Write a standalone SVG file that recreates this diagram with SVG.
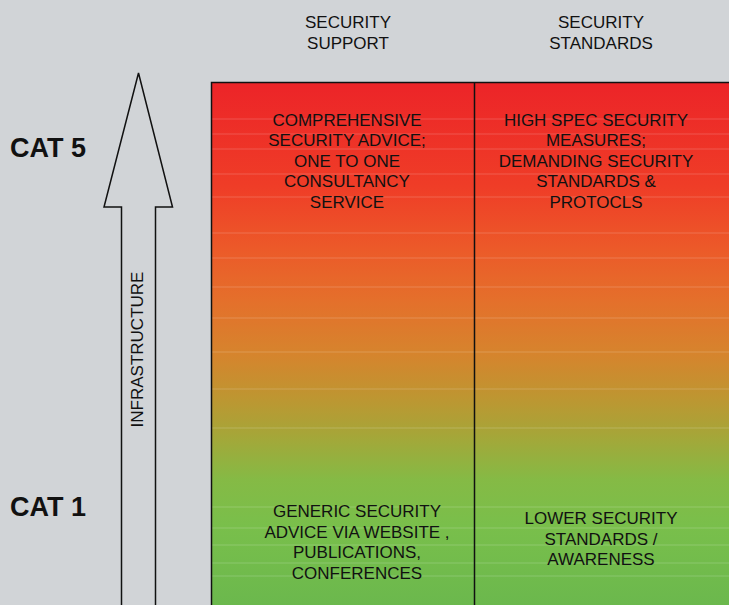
<svg xmlns="http://www.w3.org/2000/svg" width="729" height="605" viewBox="0 0 729 605">
  <defs>
    <linearGradient id="riskFill" x1="0" y1="82" x2="0" y2="605" gradientUnits="userSpaceOnUse">
      <stop offset="0" stop-color="#ec2428"/>
      <stop offset="0.2" stop-color="#ef3d27"/>
      <stop offset="0.32" stop-color="#ec5a29"/>
      <stop offset="0.42" stop-color="#e4702b"/>
      <stop offset="0.52" stop-color="#d6842d"/>
      <stop offset="0.6" stop-color="#bf9531"/>
      <stop offset="0.68" stop-color="#a4a739"/>
      <stop offset="0.76" stop-color="#85ba45"/>
      <stop offset="0.85" stop-color="#79bf4b"/>
      <stop offset="1" stop-color="#6bb84d"/>
    </linearGradient>
    <style>
      .t { font-family: "Liberation Sans", Arial, sans-serif; font-size: 17px; fill: #111; text-anchor: middle; }
      .cat { font-family: "Liberation Sans", Arial, sans-serif; font-size: 27px; font-weight: bold; fill: #111; }
      .edge { fill: none; stroke: #111; stroke-width: 1.5; }
      .streak { stroke: #ffffff; stroke-opacity: 0.18; stroke-width: 1; }
    </style>
  </defs>

  <rect width="729" height="605" fill="#d1d4d7"/>

  <!-- column headers -->
  <g id="header-support">
    <text class="t" x="348" y="28">SECURITY</text>
    <text class="t" x="348" y="49">SUPPORT</text>
  </g>
  <g id="header-standards">
    <text class="t" x="601" y="28">SECURITY</text>
    <text class="t" x="601" y="49">STANDARDS</text>
  </g>

  <!-- category labels -->
  <g id="cat5"><text class="cat" x="10" y="157">CAT 5</text></g>
  <g id="cat1"><text class="cat" x="10" y="516">CAT 1</text></g>

  <!-- infrastructure arrow -->
  <g id="infrastructure-arrow">
    <path class="edge" d="M121.5 606 L121.5 207 L104 207 L138.5 73 L172.5 207 L155.5 207 L155.5 606"/>
    <text class="t" transform="translate(143 349.5) rotate(-90)" x="0" y="0">INFRASTRUCTURE</text>
  </g>

  <!-- graded panel -->
  <g id="panel">
    <rect x="211.5" y="82.5" width="520" height="525" fill="url(#riskFill)"/>
    <g>
      <line class="streak" x1="212" y1="119" x2="729" y2="119"/>
      <line class="streak" x1="212" y1="134" x2="729" y2="134"/>
      <line class="streak" x1="212" y1="149" x2="729" y2="149"/>
      <line class="streak" x1="212" y1="174" x2="729" y2="174"/>
      <line class="streak" x1="212" y1="197" x2="729" y2="197"/>
      <line class="streak" x1="212" y1="233" x2="729" y2="233"/>
      <line class="streak" x1="212" y1="258" x2="729" y2="258"/>
      <line class="streak" x1="212" y1="287" x2="729" y2="287"/>
      <line class="streak" x1="212" y1="318" x2="729" y2="318"/>
      <line class="streak" x1="212" y1="352" x2="729" y2="352"/>
      <line class="streak" x1="212" y1="389" x2="729" y2="389"/>
      <line class="streak" x1="212" y1="428" x2="729" y2="428"/>
      <line class="streak" x1="212" y1="507" x2="729" y2="507"/>
      <line class="streak" x1="212" y1="528" x2="729" y2="528"/>
      <line class="streak" x1="212" y1="545" x2="729" y2="545"/>
      <line class="streak" x1="212" y1="563" x2="729" y2="563"/>
      <line class="streak" x1="212" y1="576" x2="729" y2="576"/>
    </g>
    <path class="edge" d="M211.5 606 L211.5 82.5 L730 82.5 M474.5 82.5 L474.5 606"/>
  </g>

  <!-- cell texts -->
  <g id="support-cat5">
    <text class="t" x="347" y="126">COMPREHENSIVE</text>
    <text class="t" x="347" y="146">SECURITY ADVICE;</text>
    <text class="t" x="347" y="167">ONE TO ONE</text>
    <text class="t" x="347" y="187">CONSULTANCY</text>
    <text class="t" x="347" y="208">SERVICE</text>
  </g>
  <g id="standards-cat5">
    <text class="t" x="596" y="126">HIGH SPEC SECURITY</text>
    <text class="t" x="596" y="146">MEASURES;</text>
    <text class="t" x="596" y="167">DEMANDING SECURITY</text>
    <text class="t" x="596" y="187">STANDARDS &amp;</text>
    <text class="t" x="596" y="208">PROTOCLS</text>
  </g>
  <g id="support-cat1">
    <text class="t" x="357" y="517">GENERIC SECURITY</text>
    <text class="t" x="357" y="538">ADVICE VIA WEBSITE ,</text>
    <text class="t" x="357" y="558">PUBLICATIONS,</text>
    <text class="t" x="357" y="579">CONFERENCES</text>
  </g>
  <g id="standards-cat1">
    <text class="t" x="601" y="524">LOWER SECURITY</text>
    <text class="t" x="601" y="545">STANDARDS /</text>
    <text class="t" x="601" y="565">AWARENESS</text>
  </g>
</svg>
